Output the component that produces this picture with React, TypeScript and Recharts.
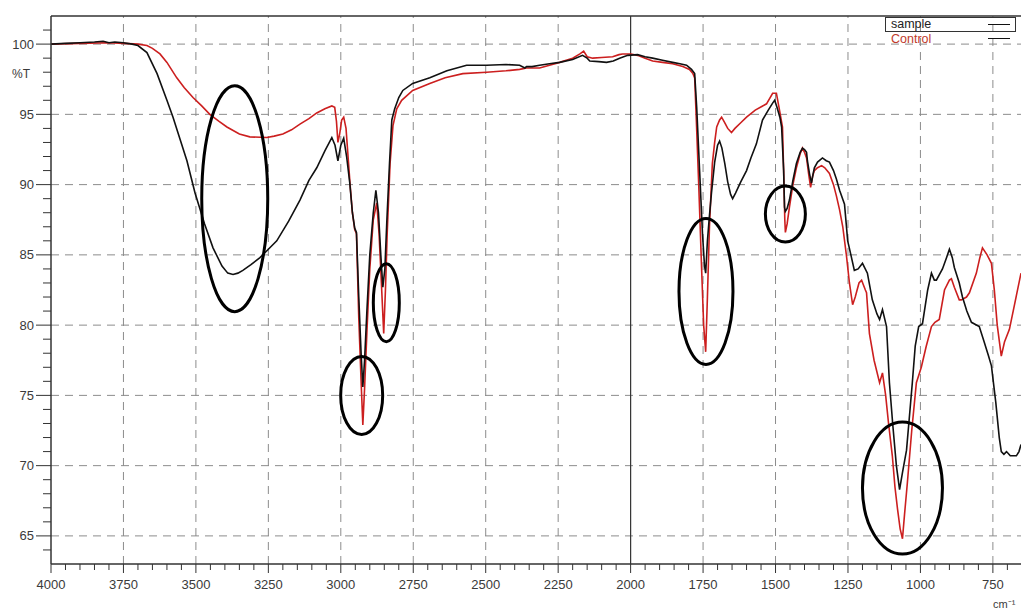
import React from 'react';

import { Line, LineChart, ReferenceDot, ReferenceLine, XAxis, YAxis } from 'recharts';

// wavenumber (cm-1) / %T
const sampleWn = [
  4000, 3950, 3900, 3850, 3820, 3800, 3780, 3750, 3720, 3700, 3669, 3634, 3600, 3579, 3531, 3503, 3470, 3441, 3410,
  3390, 3372, 3355, 3338, 3310, 3279, 3250, 3221, 3180, 3141, 3110, 3083, 3055, 3031, 3020, 3010, 3000, 2990, 2980,
  2969, 2960, 2952, 2946, 2938, 2930, 2924, 2918, 2910, 2900, 2888, 2879, 2870, 2862, 2855, 2848, 2841, 2832, 2824,
  2814, 2800, 2786, 2752, 2693, 2634, 2566, 2497, 2430, 2383, 2365, 2359, 2340, 2314, 2280, 2245, 2200, 2166, 2150,
  2141, 2110, 2083, 2060, 2038, 2010, 1976, 1950, 1924, 1890, 1855, 1830, 1807, 1790, 1779, 1772, 1762, 1752, 1745,
  1741, 1735, 1728, 1721, 1710, 1700, 1693, 1685, 1675, 1665, 1655, 1648, 1638, 1620, 1600, 1585, 1566, 1545, 1525,
  1510, 1503, 1495, 1485, 1479, 1472, 1469, 1466, 1460, 1452, 1440, 1428, 1415, 1407, 1400, 1393, 1390, 1383, 1376,
  1370, 1366, 1355, 1338, 1325, 1314, 1300, 1290, 1279, 1262, 1251, 1240, 1228, 1215, 1200, 1183, 1166, 1150, 1141,
  1131, 1117, 1107, 1095, 1083, 1072, 1062, 1048, 1038, 1028, 1018, 1006, 993, 975, 962, 952, 945, 924, 910, 900,
  890, 883, 866, 855, 840, 824, 797, 780, 765, 755, 740, 728, 721, 712, 703, 690, 669, 660, 653,
];
const sampleT = [
  100.0, 100.05, 100.1, 100.15, 100.2, 100.1, 100.15, 100.1, 100.0, 99.9, 99.4, 97.9, 96.0, 94.8, 91.7, 89.4, 87.2,
  85.5, 84.2, 83.7, 83.6, 83.7, 83.9, 84.3, 84.8, 85.4, 86.0, 87.4, 88.9, 90.3, 91.2, 92.4, 93.35, 92.8, 91.7, 92.8,
  93.3, 92.0, 90.1, 88.0, 86.9, 86.6, 82.0, 78.0, 75.6, 77.5, 81.0, 85.0, 88.0, 89.6, 88.0, 85.0, 82.7, 84.0, 87.5,
  91.5, 94.6, 95.4, 96.2, 96.7, 97.2, 97.6, 98.1, 98.5, 98.5, 98.55, 98.5, 98.3, 98.4, 98.4, 98.5, 98.6, 98.7, 98.9,
  99.2, 99.0, 98.8, 98.75, 98.7, 98.8, 99.0, 99.2, 99.25, 99.1, 99.0, 98.85, 98.7, 98.6, 98.5, 98.2, 97.9, 95.5,
  91.0, 86.5, 84.2, 83.7, 86.0, 87.8, 89.4, 91.6, 92.8, 93.1, 92.6, 91.5, 90.2, 89.3, 89.0, 89.4, 90.2, 91.0, 91.9,
  92.9, 94.6, 95.3, 95.8, 96.0, 95.5, 94.8, 94.1, 91.0, 88.4, 88.1, 88.3, 88.9, 90.3, 91.5, 92.3, 92.6, 92.5, 92.3,
  91.7, 90.8, 90.1, 90.8, 91.2, 91.6, 91.9, 91.7, 91.6, 91.0, 90.4, 89.6, 88.6, 86.0, 85.0, 83.9, 84.0, 84.4, 83.7,
  81.8, 80.8, 80.4, 81.1, 79.9, 75.9, 72.8, 70.0, 68.3, 69.5, 71.1, 73.5, 75.9, 78.5, 79.9, 80.1, 82.5, 83.7, 83.2,
  83.2, 84.0, 84.8, 85.4, 84.8, 84.1, 83.0, 82.0, 81.0, 80.2, 79.9, 78.8, 77.8, 77.1, 74.5, 72.0, 71.0, 70.8, 71.0,
  70.7, 70.7, 71.0, 71.5,
];

const controlWn = [
  4000, 3900, 3800, 3750, 3700, 3669, 3650, 3624, 3600, 3566, 3540, 3510, 3480, 3452, 3420, 3393, 3350, 3314, 3255,
  3230, 3200, 3170, 3141, 3110, 3083, 3055, 3031, 3021, 3015, 3010, 3004, 2997, 2990, 2982, 2975, 2968, 2960, 2952,
  2946, 2938, 2930, 2924, 2918, 2910, 2900, 2888, 2876, 2868, 2860, 2852, 2846, 2840, 2830, 2820, 2807, 2790, 2752,
  2693, 2640, 2579, 2497, 2430, 2383, 2359, 2314, 2280, 2245, 2200, 2175, 2162, 2150, 2131, 2100, 2062, 2040, 2028,
  2000, 1976, 1950, 1924, 1890, 1855, 1820, 1797, 1785, 1779, 1774, 1765, 1755, 1748, 1741, 1735, 1728, 1718, 1710,
  1703, 1693, 1686, 1675, 1665, 1652, 1640, 1620, 1600, 1570, 1531, 1510, 1497, 1488, 1476, 1472, 1468, 1466, 1460,
  1452, 1440, 1428, 1415, 1407, 1400, 1393, 1386, 1379, 1372, 1366, 1355, 1341, 1330, 1314, 1300, 1290, 1279, 1268,
  1255, 1245, 1234, 1225, 1212, 1203, 1190, 1186, 1176, 1160, 1141, 1131, 1120, 1110, 1097, 1088, 1079, 1070, 1062,
  1055, 1045, 1030, 1014, 997, 980, 962, 950, 935, 917, 900, 893, 883, 866, 859, 841, 831, 807, 795, 786, 770, 755,
  745, 735, 721, 710, 693, 675, 653,
];
const controlT = [
  100.0, 100.05, 100.1, 100.05, 100.0, 99.9, 99.7, 99.3, 98.7, 97.6, 96.9, 96.2, 95.6, 95.0, 94.5, 94.1, 93.6, 93.4,
  93.35, 93.45, 93.6, 93.9, 94.3, 94.7, 95.1, 95.4, 95.6, 95.5, 94.5, 93.0, 93.6, 94.6, 94.8, 94.0, 92.0, 90.0, 88.0,
  86.8, 86.5, 80.5, 76.0, 72.9, 75.5, 79.5, 84.0, 87.5, 88.7, 86.5, 83.0, 79.4, 82.5, 86.5, 91.5, 94.2, 95.4, 96.0,
  96.7, 97.2, 97.6, 97.9, 98.0, 98.1, 98.2, 98.3, 98.3, 98.5, 98.7, 99.0, 99.3, 99.5, 99.1, 99.0, 99.05, 99.1, 99.25,
  99.3, 99.3, 99.2, 99.0, 98.8, 98.7, 98.6, 98.4, 98.2, 97.9, 97.6, 95.0, 90.0, 84.0, 80.0, 78.1, 82.0, 87.0, 91.5,
  93.0, 94.1, 94.6, 94.8, 94.4, 94.0, 93.7, 94.0, 94.4, 94.8, 95.3, 95.75, 96.5, 96.5, 95.5, 94.1, 91.0, 87.5, 86.6,
  87.2, 88.4, 90.0, 91.2, 92.2, 92.6, 92.3, 91.9, 90.8, 89.8, 90.6, 91.0, 91.2, 91.35, 91.2, 90.8, 90.0, 89.2, 88.2,
  87.0, 84.9, 83.0, 81.45, 82.0, 83.0, 83.2, 82.5, 82.3, 79.4, 77.5, 75.9, 76.6, 75.0, 73.0, 70.7, 68.5, 66.9, 65.5,
  64.8, 66.5, 68.8, 72.5, 75.9, 77.0, 78.5, 79.9, 80.2, 80.4, 82.5, 83.2, 83.3, 82.7, 81.8, 81.8, 82.0, 82.3, 83.7,
  84.8, 85.5, 85.0, 84.4, 82.5, 80.0, 77.8, 78.8, 79.7, 81.5, 83.7,
];

// circled bands (centre in data units, radii in px)
const circleWn = [3366, 2928, 2843, 1740, 1466, 1062];
const circleT = [89.0, 75.0, 81.6, 82.4, 87.9, 68.4];
const circleRx = [33, 21, 13, 27, 20, 40];
const circleRy = [113, 39, 39, 73, 28, 66];

const xTicks: number[] = [];
for (let v = 700; v <= 4000; v += 50) xTicks.push(v);
const yTicks: number[] = [];
for (let v = 64; v <= 101; v += 1) yTicks.push(v);
const xGrid = [3750, 3500, 3250, 3000, 2750, 2500, 2250, 1750, 1500, 1250, 1000, 750];
const yGrid = [65, 70, 75, 80, 85, 90, 95, 100];

const sampleData = sampleWn.map((wn, i) => ({ wn, t: sampleT[i] }));
const controlData = controlWn.map((wn, i) => ({ wn, t: controlT[i] }));

const font = '"Liberation Sans", Arial, sans-serif';
const axisColor = '#333333';

const XTick = (props: any) => {
  const { x, y, payload } = props;
  const major = payload.value % 250 === 0;
  return (
    <g>
      <line x1={x} x2={x} y1={y} y2={y + (major ? 9 : 6)} stroke={axisColor} strokeWidth={1} />
      {major && (
        <text x={x} y={y + 25} textAnchor="middle" fontSize={13} fill="#3a3a3a" fontFamily={font}>
          {payload.value}
        </text>
      )}
    </g>
  );
};

const YTick = (props: any) => {
  const { x, y, payload } = props;
  const major = payload.value % 5 === 0;
  return (
    <g>
      <line x1={x - (major ? 15 : 8)} x2={x} y1={y} y2={y} stroke={axisColor} strokeWidth={1} />
      {major && (
        <text x={x - 17} y={y + 4.5} textAnchor="end" fontSize={13} fill="#3a3a3a" fontFamily={font}>
          {payload.value}
        </text>
      )}
    </g>
  );
};

const App = () => {
  return (
    <div style={{ position: 'absolute', left: 0, top: 0, width: 1021, height: 612, background: '#fff', fontFamily: font }}>
      <LineChart width={1021} height={612} margin={{ top: 16, right: 0, bottom: 0, left: 0 }}>
        <XAxis
          type="number"
          dataKey="wn"
          domain={[653, 4000]}
          reversed
          allowDataOverflow
          ticks={xTicks}
          interval={0}
          tick={<XTick />}
          tickSize={0}
          tickMargin={0}
          height={48}
          axisLine={{ stroke: axisColor, strokeWidth: 1.5 }}
        />
        <YAxis
          type="number"
          domain={[63, 102]}
          allowDataOverflow
          ticks={yTicks}
          interval={0}
          tick={<YTick />}
          tickSize={0}
          tickMargin={0}
          width={51}
          axisLine={{ stroke: axisColor, strokeWidth: 1.5 }}
        />
        {xGrid.map((v) => (
          <ReferenceLine key={'gx' + v} x={v} stroke="#8c8c8c" strokeDasharray="8 6" />
        ))}
        {yGrid.map((v) => (
          <ReferenceLine key={'gy' + v} y={v} stroke="#8c8c8c" strokeDasharray="8 6" />
        ))}
        <ReferenceLine x={2000} stroke={axisColor} strokeWidth={1.2} />
        <ReferenceLine y={102} stroke={axisColor} strokeWidth={1.5} />
        <Line
          data={controlData}
          dataKey="t"
          type="linear"
          stroke="#cc1f1f"
          strokeWidth={1.6}
          dot={false}
          isAnimationActive={false}
        />
        <Line
          data={sampleData}
          dataKey="t"
          type="linear"
          stroke="#111111"
          strokeWidth={1.6}
          dot={false}
          isAnimationActive={false}
        />
        {circleWn.map((wn, i) => (
          <ReferenceDot
            key={'c' + i}
            x={wn}
            y={circleT[i]}
            r={1}
            shape={(p: any) => (
              <ellipse cx={p.cx} cy={p.cy} rx={circleRx[i]} ry={circleRy[i]} fill="none" stroke="#000" strokeWidth={3} />
            )}
          />
        ))}
      </LineChart>
      <div style={{ position: 'absolute', left: 12, top: 67, fontSize: 12, color: '#3a3a3a' }}>%T</div>
      <div style={{ position: 'absolute', left: 993, top: 596, fontSize: 11, color: '#3a3a3a' }}>cm⁻¹</div>
      <div
        style={{
          position: 'absolute',
          left: 885,
          top: 17,
          width: 131,
          height: 15,
          border: '1px solid #333',
          boxSizing: 'border-box',
        }}
      />
      <div style={{ position: 'absolute', left: 891, top: 17, fontSize: 12.5, lineHeight: '14px', color: '#222' }}>sample</div>
      <div style={{ position: 'absolute', left: 891, top: 32, fontSize: 12.5, lineHeight: '14px', color: '#c0392b' }}>
        Control
      </div>
      <div style={{ position: 'absolute', left: 988, top: 24, width: 22, height: 0, borderTop: '1.5px solid #111' }} />
      <div style={{ position: 'absolute', left: 988, top: 38, width: 22, height: 0, borderTop: '1.5px solid #111' }} />
    </div>
  );
};

export default App;
